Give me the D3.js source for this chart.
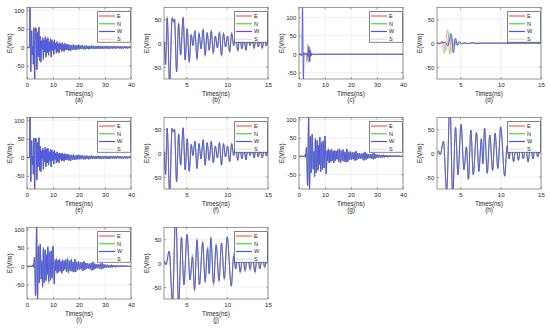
<!DOCTYPE html>
<html>
<head>
<meta charset="utf-8">
<script src="https://cdn.jsdelivr.net/npm/d3@7"></script>
<style>
  body { margin: 0; background: #fff; }
  svg { display: block; font-family: "Liberation Sans", Arial, sans-serif; -webkit-font-smoothing: antialiased; }
</style>
</head>
<body>
<div id="area"></div>
<script>
// legend entries and panel captions
var channels = ["E", "N", "W", "S"];
var panelNames = ["(a)", "(b)", "(c)", "(d)", "(e)", "(f)", "(g)", "(h)", "(i)", "(j)"];
var xTicksLong = [0, 10, 20, 30, 40];
var xTicksShort = [5, 10, 15];
var yTicksTall = [-50, 0, 50, 100];
var yTicksShort = [-50, 0, 50];

// case A (a, b, e, f): turning points of the W trace, [time ns, E V/m]
var aHead = [[0, 0], [0.9, 0], [1.15, 108], [1.45, -65], [1.8, 45], [2.05, -20], [2.27, 3], [2.45, -45],
  [2.65, 52], [2.95, -85], [3.25, 52], [3.42, 44], [3.55, 50], [3.8, -60], [4.05, 40], [4.3, -25],
  [4.6, 53], [4.85, -35], [5.1, 30], [5.35, -38], [5.6, 18], [5.8, -5], [6.05, 25], [6.3, -32],
  [6.55, 20], [6.8, -12], [7.05, 28], [7.3, -25], [7.55, 22], [7.8, -15], [8.05, 25], [8.3, -20],
  [8.55, 15], [8.8, -10], [9.05, 22], [9.3, -25], [9.55, 20], [9.8, -8], [10.05, 15], [10.3, -18],
  [10.55, 20], [10.8, -5], [11.05, 12], [11.3, -15], [11.55, 15], [11.8, -12], [12.05, 10], [12.3, -14],
  [12.55, 12], [12.8, -5], [13.05, 10], [13.3, -10], [13.55, 12], [13.8, -8], [14.05, 8], [14.3, -10],
  [14.55, 10], [14.8, -6], [15.05, 8]];
// after 15.05 ns the trace is read every 0.35 ns
var aTail = [-7, 9, -8, 7, -9, 6, -6, 8, -7, 5, -6, 6, -5, 7, -5, 5, -4, 6, -5, 4,
  -5, 5, -4, 4, -5, 4, -3, 5, -4, 4, -4, 3, -4, 4, -3, 4, -4, 3, -3, 4,
  -4, 3, -3, 4, -3, 3, -4, 3, -3, 3, -3, 4, -3, 3, -3, 3, -2, 3, -3, 3,
  -3, 2, -3, 3, -2, 3, -3, 2, -2, 3, -2];
// where E and N stick out past W in (a) and (b)
var aEPeaks = [[2.65, 56], [3.25, 55], [4.05, 44], [4.6, 56], [5.35, -42], [6.05, 28], [6.3, -36],
  [7.05, 31], [7.3, -28], [8.05, 29], [8.3, -24], [9.05, 25], [9.3, -28], [10.3, -21], [10.55, 23],
  [11.3, -18], [11.55, 18], [12.3, -17], [12.55, 15], [13.3, -13], [13.55, 14], [14.3, -13], [14.55, 13]];
var aNPeaks = [[3.55, 53], [6.55, 23], [9.55, 23], [12.55, 14]];

// case C (c, d): the three traces differ
var cE = [[0, 0], [2.5, 0], [2.7, 5], [3.0, -21], [3.42, 28], [3.67, -23], [3.9, 12], [4.1, -8],
  [4.3, 5], [4.5, -3], [4.75, 2], [5.0, -1], [5.4, 1], [5.8, -1], [6.3, 0], [40, 0]];
var cN = [[0, 0], [2.6, 0], [2.85, 4], [3.2, -16], [3.65, 22], [3.95, -20], [4.2, 9], [4.45, -5],
  [4.7, 3], [5.0, -2], [5.4, 1], [5.9, -1], [6.4, 0], [40, 0]];
var cW = [[0, 0], [0.8, 0], [1.0, -5], [1.1, 0], [1.35, 127], [1.7, -67], [1.95, 4], [2.2, -1],
  [2.6, 0], [3.1, 2], [3.45, -6], [3.85, 20], [4.15, -20], [4.4, 10], [4.65, -5], [4.9, 3],
  [5.2, -2], [5.6, 1], [6.0, -1], [6.5, 1], [7.0, -1], [7.6, 0], [40, 0]];

// case G (g, h, and W of i, j)
var gHead = [[0, 0], [2.0, 0], [2.3, 4], [2.5, -3], [2.9, 25], [3.3, -80], [3.7, 106], [4.05, -89],
  [4.4, 54], [4.7, -45], [5.08, 60], [5.45, -35], [5.75, 13], [6.0, -55], [6.3, 48], [6.6, -45],
  [7.0, 43], [7.3, -38], [7.6, 30], [7.8, -22], [8.0, 52], [8.33, -42], [8.65, 38], [9.0, -36],
  [9.3, 42], [9.65, -32], [10.0, 55], [10.5, -48], [10.8, 15], [11.05, -12], [11.3, 20], [11.6, -18],
  [11.9, 16], [12.2, -15], [12.5, 20], [12.8, -12], [13.1, 14], [13.4, -18], [13.7, 16], [14.0, -12],
  [14.3, 14], [14.6, -8], [14.9, 18]];
// after 14.9 ns, every 0.35 ns
var gTail = [-15, 20, -18, 15, -12, 18, -14, 12, -16, 20, -15, 12, -10, 13, -9, 10, -8, 11, -12, 14,
  -10, 9, -7, 8, -6, 7, -8, 9, -11, 12, -9, 7, -6, 6, -5, 5, -6, 7, -8, 8,
  -6, 5, -4, 4, -3, 4, -4, 3, -3, 4, -3, 3, -2, 3, -3, 2, -2, 3, -2, 2,
  -2, 2, -2, 2, -2, 2, -1, 2, -2, 1, -1];
var iEPeaks = [[5.75, 18], [6.0, -60], [7.0, 47], [7.3, -42], [8.33, -47], [9.0, -40], [10.8, 20],
  [11.6, -22], [12.8, -16], [13.7, 20], [14.3, 18]];
var iNPeaks = [[6.3, 52], [7.6, 35], [8.0, 56], [8.65, 42], [9.65, -36], [11.3, 24], [12.2, -19],
  [13.4, -22], [14.6, -12], [15.6, 26], [17.0, 22]];

var colors = { E: "#ff5c5c", N: "#3cdc3c", W: "#5050f0", S: "#dddddd" };
var widths = { E: 0.55, N: 0.55, W: 0.9, S: 0.55 };
var drawOrder = ["S", "E", "N", "W"];

function withTail(head, tail, t0, dt) {
  return head.concat(tail.map(function (v, i) { return [t0 + i * dt, v]; }));
}
function withPeaks(base, peaks) {
  return base.map(function (d) {
    var hit = peaks.find(function (p) { return Math.abs(p[0] - d[0]) < 0.01; });
    return hit ? [d[0], hit[1]] : d;
  });
}

var aW = withTail(aHead, aTail, 15.4, 0.35);
var gW = withTail(gHead, gTail, 15.25, 0.35);

var caseA = { E: withPeaks(aW, aEPeaks), N: withPeaks(aW, aNPeaks), W: aW, S: aW };
var caseAsame = { E: aW, N: aW, W: aW, S: aW };
var caseC = { E: cE, N: cN, W: cW, S: cW };
var caseG = { E: gW, N: gW, W: gW, S: gW };
var caseI = { E: withPeaks(gW, iEPeaks), N: withPeaks(gW, iNPeaks), W: gW, S: gW };

var panels = [
  { col: 0, row: 0, xlim: [0, 40], ylim: [-85, 108], xt: xTicksLong, yt: yTicksTall, set: caseA },
  { col: 1, row: 0, xlim: [2.26, 15], ylim: [-75, 75], xt: xTicksShort, yt: yTicksShort, set: caseA },
  { col: 2, row: 0, xlim: [0, 40], ylim: [-67, 127], xt: xTicksLong, yt: yTicksTall, set: caseC },
  { col: 3, row: 0, xlim: [2.1, 15], ylim: [-75, 75], xt: xTicksShort, yt: yTicksShort, set: caseC },
  { col: 0, row: 1, xlim: [0, 40], ylim: [-85, 108], xt: xTicksLong, yt: yTicksTall, set: caseAsame },
  { col: 1, row: 1, xlim: [2.26, 15], ylim: [-75, 75], xt: xTicksShort, yt: yTicksShort, set: caseAsame },
  { col: 2, row: 1, xlim: [0, 40], ylim: [-89, 106], xt: xTicksLong, yt: yTicksTall, set: caseG },
  { col: 3, row: 1, xlim: [2.1, 15], ylim: [-75, 75], xt: xTicksShort, yt: yTicksShort, set: caseG },
  { col: 0, row: 2, xlim: [0, 40], ylim: [-89, 106], xt: xTicksLong, yt: yTicksTall, set: caseI },
  { col: 1, row: 2, xlim: [2.26, 15], ylim: [-75, 75], xt: xTicksShort, yt: yTicksShort, set: caseI }
];

var colLeft = [27, 164, 299, 437];
var rowTop = [7.3, 117.3, 227.3];
var plotW = 104, plotH = 71.7;

var svg = d3.select("#area")
  .append("svg")
  .attr("width", 550)
  .attr("height", 332);
svg.append("rect").attr("width", 550).attr("height", 332).attr("fill", "#fff");

panels.forEach(function (p, k) {
  var g = svg.append("g")
    .attr("transform", "translate(" + colLeft[p.col] + "," + rowTop[p.row] + ")");
  var x = d3.scaleLinear().domain(p.xlim).range([0, plotW]);
  var y = d3.scaleLinear().domain(p.ylim).range([plotH, 0]);

  // grid
  g.selectAll(".gx").data(p.xt).join("line")
    .attr("x1", function (d) { return x(d); }).attr("x2", function (d) { return x(d); })
    .attr("y1", 0).attr("y2", plotH)
    .attr("stroke", "#e4e4e4").attr("stroke-width", 0.6);
  g.selectAll(".gy").data(p.yt).join("line")
    .attr("x1", 0).attr("x2", plotW)
    .attr("y1", function (d) { return y(d); }).attr("y2", function (d) { return y(d); })
    .attr("stroke", "#e4e4e4").attr("stroke-width", 0.6);

  g.append("clipPath").attr("id", "clip" + k)
    .append("rect").attr("width", plotW).attr("height", plotH);

  var line = d3.line()
    .x(function (d) { return x(d[0]); })
    .y(function (d) { return y(d[1]); })
    .curve(d3.curveMonotoneX);

  var traces = g.append("g").attr("clip-path", "url(#clip" + k + ")");
  drawOrder.forEach(function (ch) {
    traces.append("path")
      .datum(p.set[ch])
      .attr("d", line)
      .attr("fill", "none")
      .attr("stroke", colors[ch])
      .attr("stroke-width", widths[ch]);
  });

  // axes
  var xa = g.append("g")
    .attr("transform", "translate(0," + plotH + ")")
    .call(d3.axisBottom(x).tickValues(p.xt).tickSize(-2).tickSizeOuter(0).tickPadding(3.5)
      .tickFormat(function (d) { return String(d); }));
  var ya = g.append("g")
    .call(d3.axisLeft(y).tickValues(p.yt).tickSize(-2).tickSizeOuter(0).tickPadding(2.6)
      .tickFormat(function (d) { return String(d); }));
  [xa, ya].forEach(function (a) {
    a.attr("font-family", null).attr("font-size", 6.1);
    a.selectAll("text").attr("fill", "#262626");
    a.selectAll("line").attr("stroke", "#555").attr("stroke-width", 0.5);
    a.select(".domain").remove();
  });
  // ticks on the top and right side too
  g.selectAll(".tt").data(p.xt).join("line")
    .attr("x1", function (d) { return x(d); }).attr("x2", function (d) { return x(d); })
    .attr("y1", 0).attr("y2", 2).attr("stroke", "#555").attr("stroke-width", 0.5);
  g.selectAll(".tr").data(p.yt).join("line")
    .attr("x1", plotW).attr("x2", plotW - 2)
    .attr("y1", function (d) { return y(d); }).attr("y2", function (d) { return y(d); })
    .attr("stroke", "#555").attr("stroke-width", 0.5);

  g.append("rect")
    .attr("width", plotW).attr("height", plotH)
    .attr("fill", "none").attr("stroke", "#6a6a6a").attr("stroke-width", 0.7);

  g.append("text")
    .attr("x", plotW / 2).attr("y", plotH + 16.8)
    .attr("text-anchor", "middle").attr("font-size", 6.3).attr("fill", "#262626")
    .text("Times(ns)");
  g.append("text")
    .attr("x", plotW / 2).attr("y", plotH + 22.8)
    .attr("text-anchor", "middle").attr("font-size", 6.3).attr("fill", "#262626")
    .text(panelNames[k]);
  g.append("text")
    .attr("transform", "translate(-17.5," + (plotH / 2) + ") rotate(-90)")
    .attr("text-anchor", "middle").attr("dy", "0.35em")
    .attr("font-size", 6.3).attr("fill", "#262626")
    .text("E(V/m)");

  // legend
  var lg = g.append("g").attr("transform", "translate(" + (plotW - 33.5) + ",4.4)");
  lg.append("rect")
    .attr("width", 33).attr("height", 30.5)
    .attr("fill", "#fff").attr("stroke", "#333").attr("stroke-width", 0.6);
  channels.forEach(function (ch, i) {
    var yy = 4.3 + i * 7.75;
    lg.append("line")
      .attr("x1", 1.5).attr("x2", 17.5).attr("y1", yy).attr("y2", yy)
      .attr("stroke", colors[ch]).attr("stroke-width", 1.2);
    lg.append("text")
      .attr("x", 19.6).attr("y", yy).attr("dy", "0.35em")
      .attr("font-size", 5.6).attr("fill", "#262626")
      .text(ch);
  });
});
</script>
</body>
</html>
